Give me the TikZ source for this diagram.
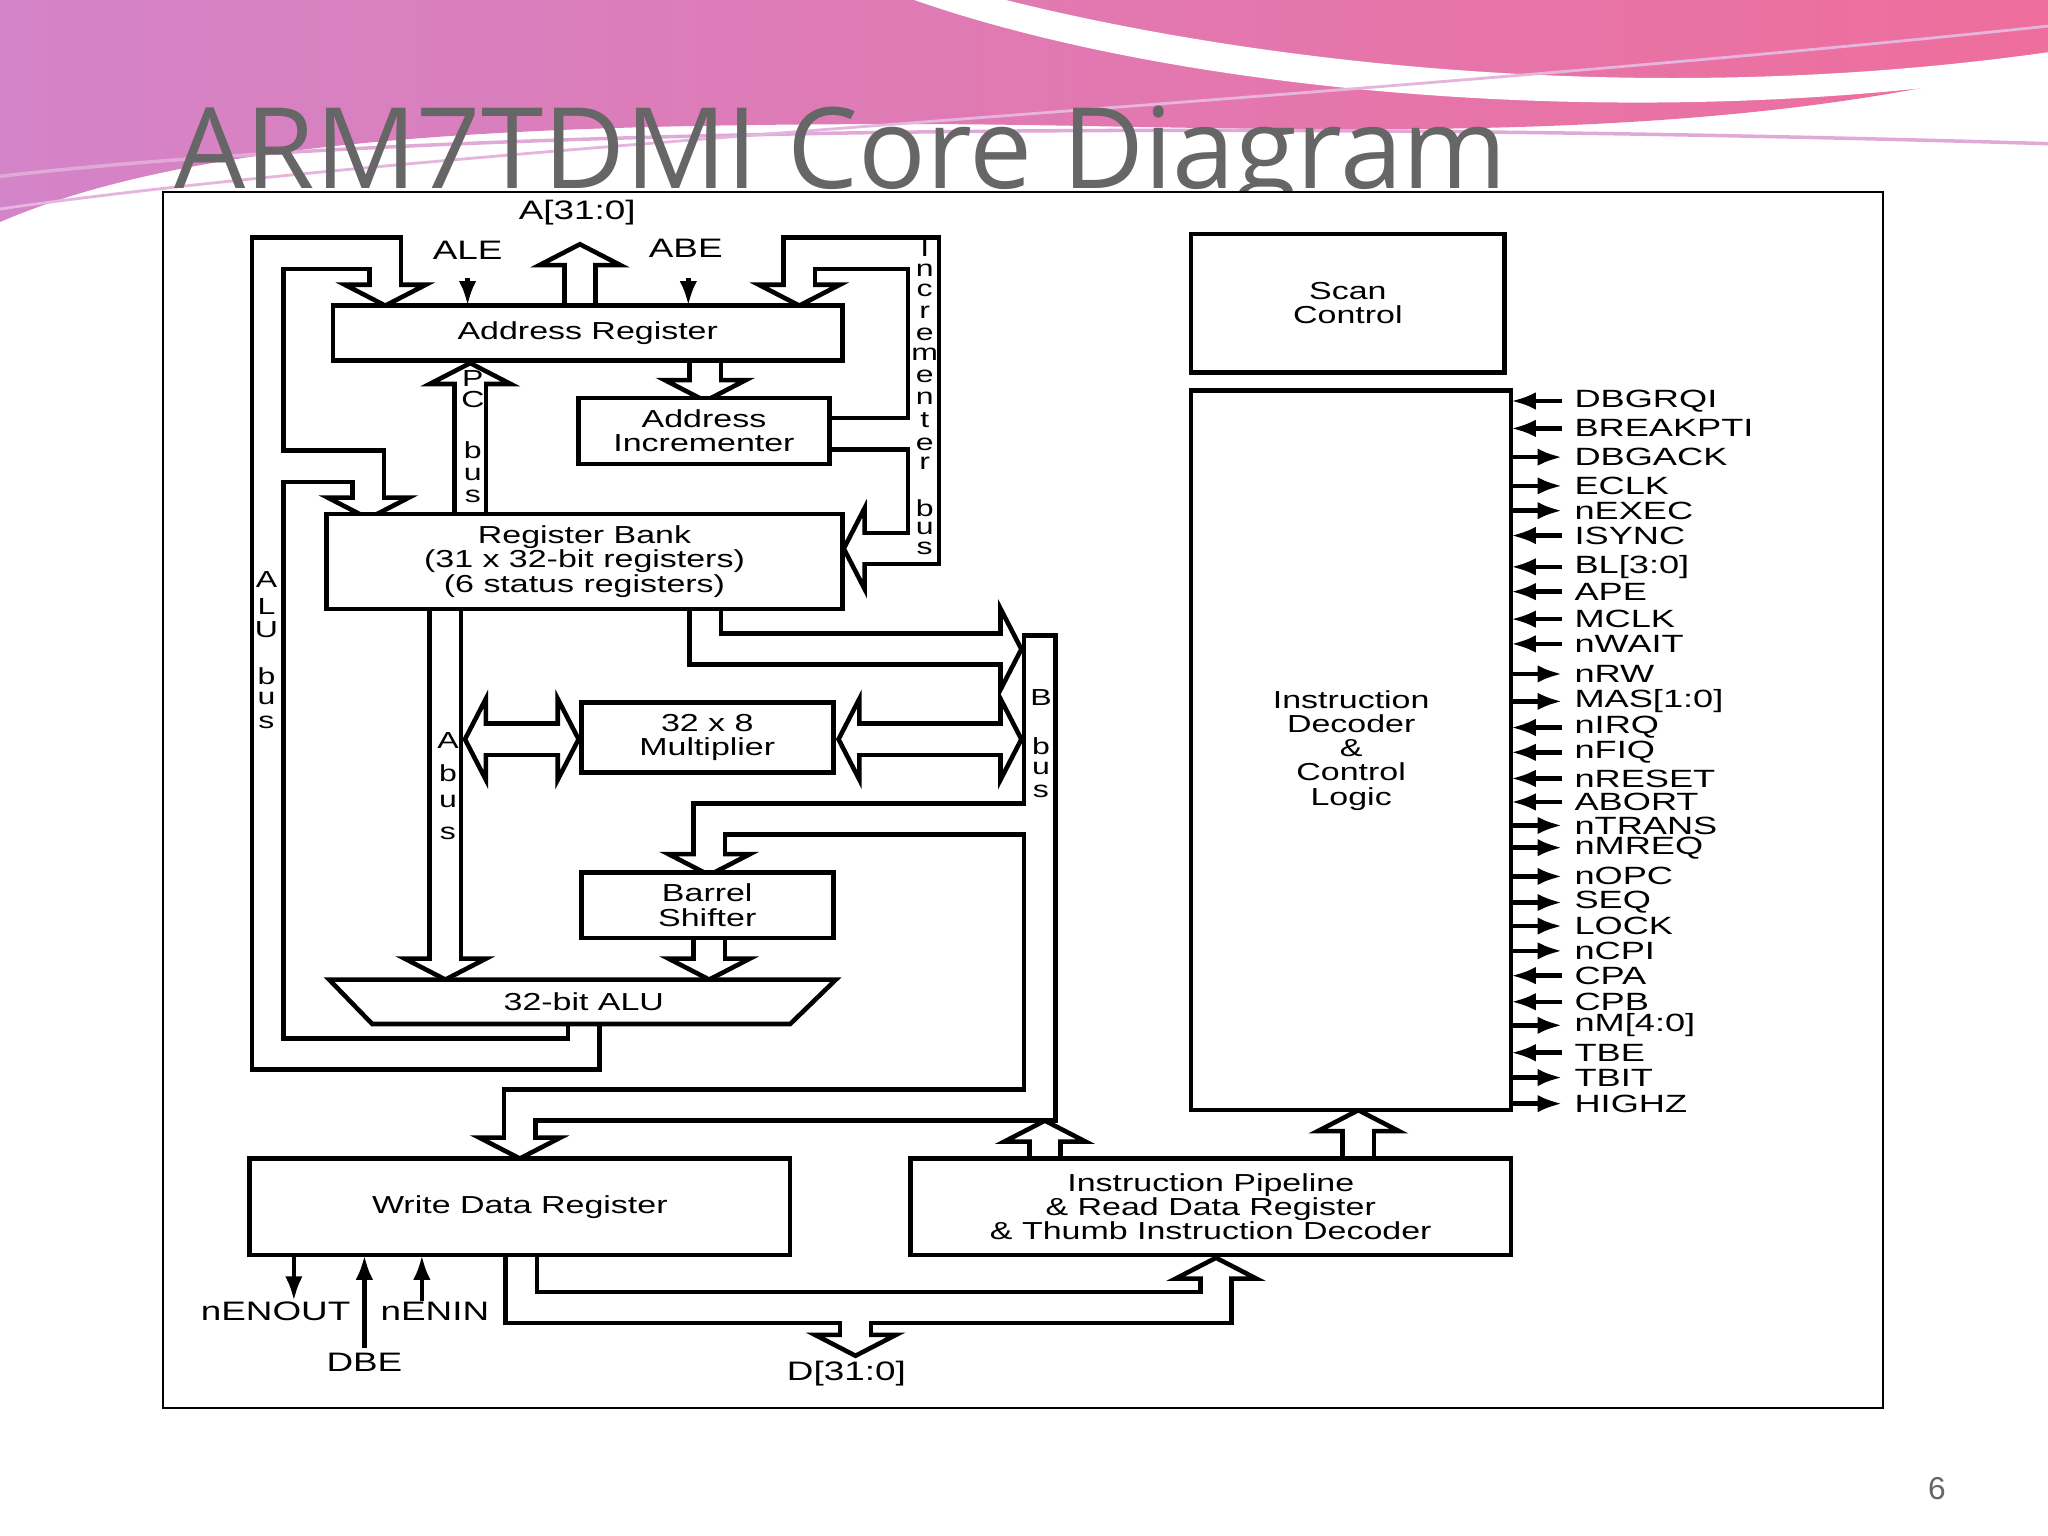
\documentclass[tikz,border=0pt]{standalone}
\usepackage{fontspec}
\setmainfont{Liberation Sans}
\newfontfamily\diag{Liberation Sans}[FakeStretch=1.38]
\newfontfamily\sdiag{Liberation Sans}[FakeStretch=1.45]
\newfontfamily\ttl{Open Sans}
\usetikzlibrary{arrows.meta}
\newcommand\ahead[2]{\begin{scope}[shift={(#1)},rotate=#2]\filldraw[fill=white,line width=1.3pt,line join=miter] (0,0) -- (-16,31) -- (-16,-31) -- cycle;\end{scope}}
\newcommand\allbuses[3]{%
\draw[#1,#2] (447,784) -- (447,807) -- (205,807) -- (205,194) -- (295,194) -- (295,218);
\draw[#1,#2] (205,357) -- (282,357) -- (282,381);
\draw[#1,#2] (444,234) -- (444,203);
\draw[#1,#2] (540,276) -- (540,291);
\draw[#1,#3] (612,218) -- (612,194) -- (707,194) -- (707,420) -- (662,420);
\draw[#1] (635,332) -- (707,332);
\draw[#1,#2] (360,397) -- (360,294);
\draw[#1,#2] (341,463) -- (341,734);
\draw[#1,#3] (372,566) -- (427,566);
\draw[#1,#2] (540,463) -- (540,497) -- (766,497);
\draw[#1,#3] (658,566) -- (766,566);
\draw[#1,#2] (796,627) -- (543,627) -- (543,654);
\draw[#1,#2] (543,716) -- (543,734);
\draw[#1,#2] (800,887) -- (800,874);
\draw[#1,#2] (1040,887) -- (1040,866);
\draw[#1,#2] (399,961) -- (399,1001) -- (931,1001) -- (931,979);
\draw[#1,#2] (655,1001) -- (655,1022);
}
\begin{document}
\begin{tikzpicture}[x=0.01306cm,y=-0.01306cm,line join=miter,
  bo/.style={line width=10.2pt},
  bi/.style={white,line width=7.6pt},
  box/.style={draw,fill=white,line width=1.3pt},
  bt/.style={font=\diag\fontsize{7}{6.9}\selectfont,align=center},
  sl/.style={font=\sdiag\fontsize{7.1}{8}\selectfont,anchor=west,inner sep=0pt},
  vl/.style={font=\diag\fontsize{6.6}{7}\selectfont,inner sep=0pt},
  tl/.style={font=\diag\fontsize{7.6}{8}\selectfont,inner sep=0pt},
  sig/.style={line width=1.3pt,-{Latex[length=7pt,width=5pt]}}]
\useasboundingbox (0,0) rectangle (1568,1176);
\fill[white] (0,0) rectangle (1568,1176);
% background wave
\definecolor{wl}{HTML}{D484C8}\definecolor{wr}{HTML}{EE6E9C}
\shade[left color=wl, right color=wr]
  (0,0) -- (1568,0) -- (1568,45) .. controls (1300,120) and (950,95) .. (700,95)
  .. controls (400,95) and (150,105) .. (0,170) -- cycle;
\fill[white] (700,0) -- (770,0) .. controls (950,45) and (1250,85) .. (1568,40) -- (1568,55)
  .. controls (1250,105) and (900,70) .. (700,0) -- cycle;
\draw[wl!70,line width=1pt] (0,135) .. controls (300,100) and (900,90) .. (1568,110);
\draw[wl!60,line width=0.8pt] (0,160) .. controls (350,110) and (1000,80) .. (1568,20);
\node[font=\ttl\fontsize{32}{32}\selectfont,text=black!60,anchor=base west,inner sep=0pt] (title) at (133,144) {ARM7TDMI Core Diagram};
\node[font=\rmfamily\fontsize{9}{9}\selectfont,text=black!60] (pg) at (1483,1140) {6};
% frame
\draw[fill=white,line width=0.6pt] (125,147) rectangle (1442,1078);
% buses
\allbuses{bo}{}{}
\ahead{295,234}{-90}\ahead{282,397}{-90}\ahead{444,187}{90}\ahead{540,307}{-90}
\ahead{612,234}{-90}\ahead{646,420}{180}\ahead{360,278}{90}\ahead{341,750}{-90}
\ahead{356,566}{180}\ahead{443,566}{0}\ahead{782,497}{0}\ahead{642,566}{180}\ahead{782,566}{0}
\ahead{543,670}{-90}\ahead{543,750}{-90}\ahead{1040,850}{90}\ahead{931,963}{90}\ahead{655,1038}{-90}
\draw[bo] (796,485) -- (796,846) -- (398,846) -- (398,871);
\ahead{398,887}{-90}
\ahead{800,858}{90}
\allbuses{bi}{shorten >=-1.5pt}{shorten >=-1.5pt,shorten <=-1.5pt}
\draw[bi,shorten <=1.3pt,shorten >=-1.5pt] (796,485) -- (796,846) -- (398,846) -- (398,871);
\draw[bi,shorten >=-1.5pt] (800,887) -- (800,874);
% boxes
\node[box,minimum width=390*0.01306cm,minimum height=42*0.01306cm,bt] (ar) at (450,255) {Address Register};
\node[box,minimum width=192*0.01306cm,minimum height=45*0.01306cm,bt] (ai) at (539,330) {Address\\Incrementer};
\node[box,minimum width=395*0.01306cm,minimum height=66*0.01306cm,bt] (rb) at (447.5,430) {Register Bank\\(31 x 32-bit registers)\\(6 status registers)};
\node[box,minimum width=193*0.01306cm,minimum height=53*0.01306cm,bt] (mul) at (541.5,564.5) {32 x 8\\Multiplier};
\node[box,minimum width=193*0.01306cm,minimum height=46*0.01306cm,bt] (bs) at (541.5,693) {Barrel\\Shifter};
\draw[box] (252,750) -- (640,750) -- (605,784) -- (285,784) -- cycle;
\node[bt] (alu) at (447,767) {32-bit ALU};
\node[box,minimum width=240*0.01306cm,minimum height=106*0.01306cm,bt] (sc) at (1032,232) {Scan\\Control};
\node[box,minimum width=245*0.01306cm,minimum height=551*0.01306cm,bt] (id) at (1034.5,574.5) {Instruction\\Decoder\\\&\\Control\\Logic};
\node[box,minimum width=414*0.01306cm,minimum height=74*0.01306cm,bt] (wdr) at (398,924) {Write Data Register};
\node[box,minimum width=460*0.01306cm,minimum height=74*0.01306cm,bt] (ip) at (927,924) {Instruction Pipeline\\\& Read Data Register\\\& Thumb Instruction Decoder};
% thin signals
\draw[sig] (358,213) -- (358,234);
\draw[sig] (527,213) -- (527,234);
\draw[sig] (225,961) -- (225,996);
\draw[sig] (279,1032) -- (279,961);
\draw[sig] (323,996) -- (323,961);
\node[tl] at (358,192) {ALE};
\node[tl] at (525,190) {ABE};
\node[tl] at (442,163) {A[31:0]};
\node[tl] at (211,1004) {nENOUT};
\node[tl] at (333,1004) {nENIN};
\node[tl] at (279,1043) {DBE};
\node[tl] at (648,1052) {D[31:0]};
% vertical bus labels
\foreach \c/\y in {A/444,L/464,U/482,b/518,u/535,s/553} \node[vl] at (204,\y) {\c};
\foreach \c/\y in {A/567,b/592,u/614,s/638} \node[vl] at (343,\y) {\c};
\foreach \c/\y in {P/290,C/306,b/345,u/363,s/380} \node[vl] at (362,\y) {\c};
\foreach \c/\y in {B/534,b/571,u/588,s/606} \node[vl] at (797,\y) {\c};
\foreach \c/\y in {I/190,n/207,c/222,r/239,e/256,m/271,e/288,n/305,t/322,e/340,r/355,b/389,u/405,s/420} \node[vl] at (708,\y) {\c};
% control signals
\foreach \y in {307,328,410,434,453,474,493,557,576,596,614,747,767,806} \draw[sig] (1196,\y) -- (1157,\y);
\foreach \y in {350,372,391,516,537,632,649,671,691,709,728,785,825,845} \draw[sig] (1157,\y) -- (1196,\y);
\foreach \n/\y in {DBGRQI/307,BREAKPTI/328,DBGACK/350,ECLK/372,nEXEC/391,ISYNC/410,{BL[3:0]}/434,APE/453,MCLK/474,nWAIT/493,nRW/516,{MAS[1:0]}/537,nIRQ/557,nFIQ/576,nRESET/596,ABORT/614,nTRANS/632,nMREQ/649,nOPC/671,SEQ/691,LOCK/709,nCPI/728,CPA/747,CPB/767,{nM[4:0]}/785,TBE/806,TBIT/825,HIGHZ/845}
  \node[sl] at (1205,\y) {\n};
\end{tikzpicture}
\end{document}
